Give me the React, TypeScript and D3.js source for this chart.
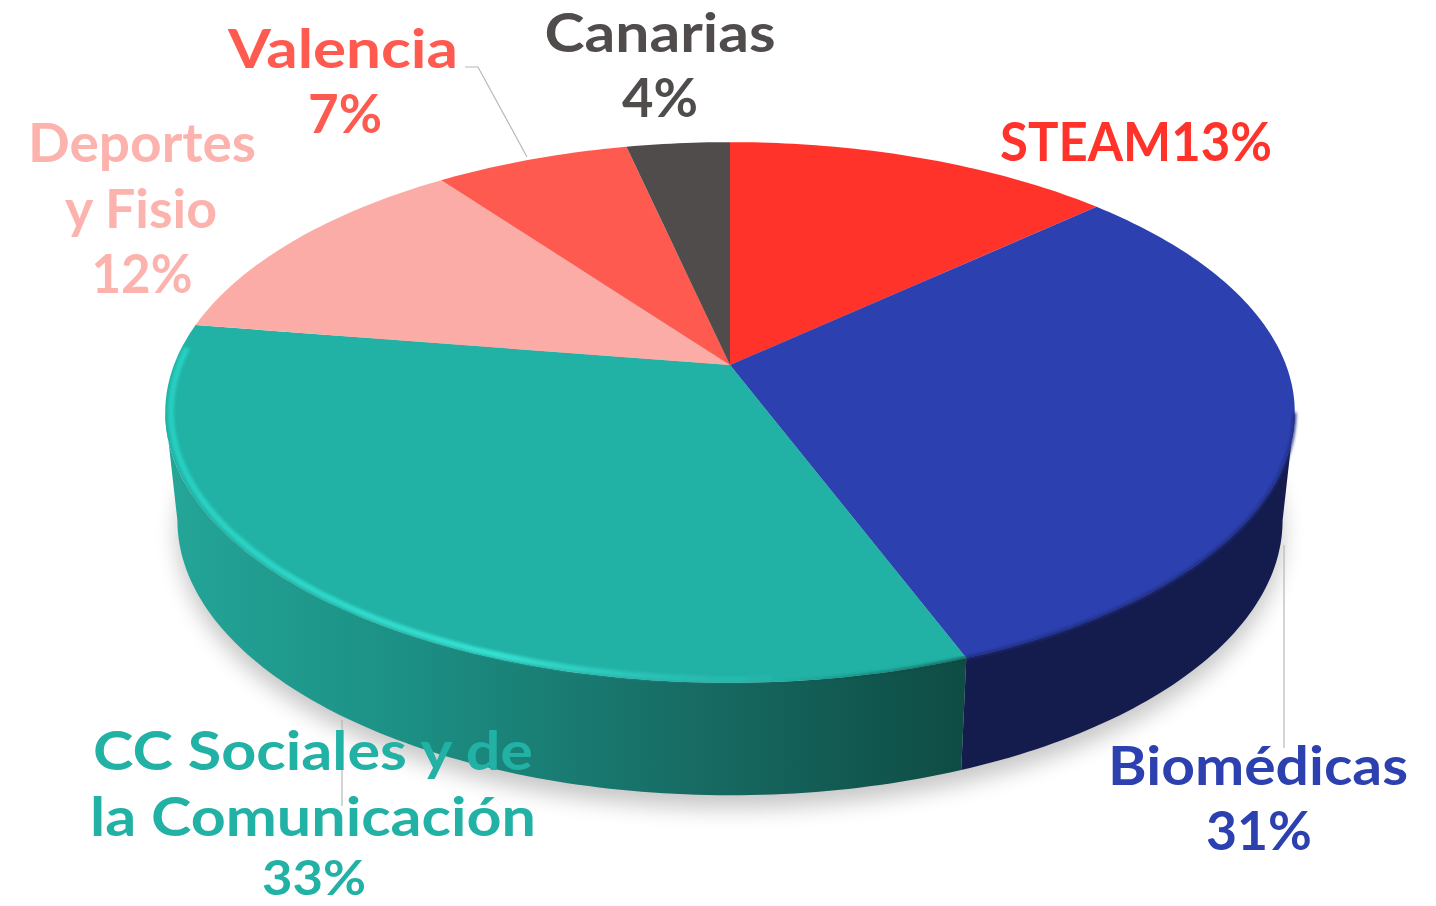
import React from 'react';
import * as d3 from 'd3';

// slice data (labels show these rounded)
const categories = ['STEAM', 'Biomédicas', 'CC Sociales y de la Comunicación', 'Deportes y Fisio', 'Valencia', 'Canarias'];
const shares = [13.2, 31.02, 33.28, 12.4, 6.6, 3.5];
const faceColors = ['#ff3329', '#2c40af', '#21b1a5', '#fcaca6', '#ff5a4f', '#504c4c'];
const labelColors = ['#ff3329', '#2c40af', '#21b1a5', '#fdb3ad', '#ff5a4f', '#504c4c'];

const WIDTH = 1436;
const HEIGHT = 906;
const FONT = 'Lato, "Open Sans", sans-serif';

// perspective disc: k is the foreshortening, centre is the pie's hub on screen
const k = 0.1756;
const topFace = { cx: 730, cy: 365, rx: 556, ry: 262 };
const baseFace = { cx: 730, cy: 472, rx: 544, ry: 266.5 };

type Face = typeof topFace;
type Pt = [number, number];

const project = (f: Face, angle: number, r = 1): Pt => {
  const u = Math.sin(angle) * r;
  const v = -Math.cos(angle) * r;
  const w = 1 - k * v;
  return [f.cx + (f.rx * u) / w, f.cy + (f.ry * v) / w];
};

const rim = (f: Face, a0: number, a1: number, r = 1): Pt[] => {
  const n = Math.max(2, Math.ceil(Math.abs(a1 - a0) * 60));
  return d3.range(n + 1).map((i) => project(f, a0 + ((a1 - a0) * i) / n, r));
};

const line = d3.line<Pt>();
const arcs = d3.pie<number>().sort(null).value((d) => d)(shares);
const fullCircle = rim(baseFace, 0, Math.PI * 2);

// the wall is only seen between the two side extremes of the disc
const wallFrom = Math.acos(-k);
const wallTo = Math.PI * 2 - wallFrom;

// one entry per text line: slice index, text, centre x, baseline y, fitted width, font size
const labelRows: [number, string, number, number, number, number][] = [
  [5, categories[5], 660, 52, 231, 54],
  [5, `${Math.round(shares[5])}%`, 660, 117, 76, 54],
  [4, categories[4], 343, 68, 230, 54],
  [4, `${Math.round(shares[4])}%`, 345, 133, 74, 54],
  [3, 'Deportes', 142, 162, 228, 54],
  [3, 'y Fisio', 141, 228, 152, 54],
  [3, `${Math.round(shares[3])}%`, 142, 293, 101, 54],
  [0, `${categories[0]}${Math.round(shares[0])}%`, 1136, 161, 272, 54],
  [2, 'CC Sociales y de', 313, 770, 440, 54],
  [2, 'la Comunicación', 313, 836, 446, 54],
  [2, `${Math.round(shares[2])}%`, 314, 895, 104, 47],
  [1, categories[1], 1258, 785, 300, 54],
  [1, `${Math.round(shares[1])}%`, 1259, 850, 106, 54],
];

const leaders: Pt[][] = [
  [[465, 67], [478, 67], [527, 157]],
  [[1284, 545], [1284, 748]],
  [[342, 720], [342, 806]],
];

const App = () => {
  const teal = arcs[2];
  const blue = arcs[1];

  const walls = [
    { id: 'blue', a0: Math.max(blue.startAngle, wallFrom), a1: blue.endAngle, fill: '#141c4e' },
    { id: 'teal', a0: teal.startAngle, a1: Math.min(teal.endAngle, wallTo), fill: 'url(#tealWall)' },
  ];

  return (
    <svg
      width={WIDTH}
      height={HEIGHT}
      viewBox={`0 0 ${WIDTH} ${HEIGHT}`}
      style={{ position: 'absolute', left: 0, top: 0, background: '#fff' }}
    >
      <defs>
        <filter id="shadow" x="-10%" y="-10%" width="120%" height="125%">
          <feGaussianBlur stdDeviation="11" />
        </filter>
        <filter id="soft" x="-5%" y="-5%" width="110%" height="110%">
          <feGaussianBlur stdDeviation="1.6" />
        </filter>
        <linearGradient id="tealWall" gradientUnits="userSpaceOnUse" x1="172" x2="965" y1="0" y2="0">
          <stop offset="0" stopColor="#23a597" />
          <stop offset="0.3" stopColor="#1c8f84" />
          <stop offset="0.65" stopColor="#176c64" />
          <stop offset="1" stopColor="#0e4c44" />
        </linearGradient>
        <linearGradient id="tealGlow" gradientUnits="userSpaceOnUse" x1="166" x2="900" y1="0" y2="0">
          <stop offset="0" stopColor="#27cfc0" />
          <stop offset="0.45" stopColor="#36e2d3" />
          <stop offset="0.72" stopColor="#2cc4b7" stopOpacity="0.6" />
          <stop offset="1" stopColor="#21b1a5" stopOpacity="0" />
        </linearGradient>
        <linearGradient id="tealShade" gradientUnits="userSpaceOnUse" x1="780" x2="965" y1="0" y2="0">
          <stop offset="0" stopColor="#0e4c44" stopOpacity="0" />
          <stop offset="1" stopColor="#0e4c44" stopOpacity="0.9" />
        </linearGradient>
      </defs>

      <path
        d={`${line(fullCircle)}Z`}
        fill="#000"
        opacity={0.22}
        filter="url(#shadow)"
        transform="translate(0,13)"
      />

      {walls.map((w) => (
        <path
          key={`wall-${w.id}`}
          d={`${line([...rim(topFace, w.a0, w.a1), ...rim(baseFace, w.a1, w.a0)])}Z`}
          fill={w.fill}
        />
      ))}

      {arcs.map((a, i) => (
        <path
          key={`face-${categories[i]}`}
          d={`${line([[topFace.cx, topFace.cy], ...rim(topFace, a.startAngle, a.endAngle)])}Z`}
          fill={faceColors[i]}
        />
      ))}

      {/* bevel on the near rim */}
      <path
        d={line(rim(topFace, wallFrom, blue.endAngle, 1))!}
        fill="none"
        stroke="#1d2a7c"
        strokeWidth={3}
        filter="url(#soft)"
      />
      <path
        d={line(rim(topFace, teal.startAngle, teal.startAngle + 0.55, 1))!}
        fill="none"
        stroke="url(#tealShade)"
        strokeWidth={3}
        filter="url(#soft)"
      />
      <path
        d={line(rim(topFace, teal.startAngle + 0.3, teal.endAngle - 0.09, 0.99))!}
        fill="none"
        stroke="url(#tealGlow)"
        strokeWidth={6}
        filter="url(#soft)"
      />

      {leaders.map((pts, i) => (
        <path key={`leader-${i}`} d={line(pts)!} fill="none" stroke="#b8b8b8" strokeWidth={1.2} />
      ))}

      {labelRows.map(([idx, text, x, y, w, size]) => (
        <text
          key={text}
          x={x}
          y={y}
          textAnchor="middle"
          fontFamily={FONT}
          fontWeight={700}
          fontSize={size}
          textLength={w}
          lengthAdjust="spacingAndGlyphs"
          fill={labelColors[idx]}
        >
          {text}
        </text>
      ))}
    </svg>
  );
};

export default App;
